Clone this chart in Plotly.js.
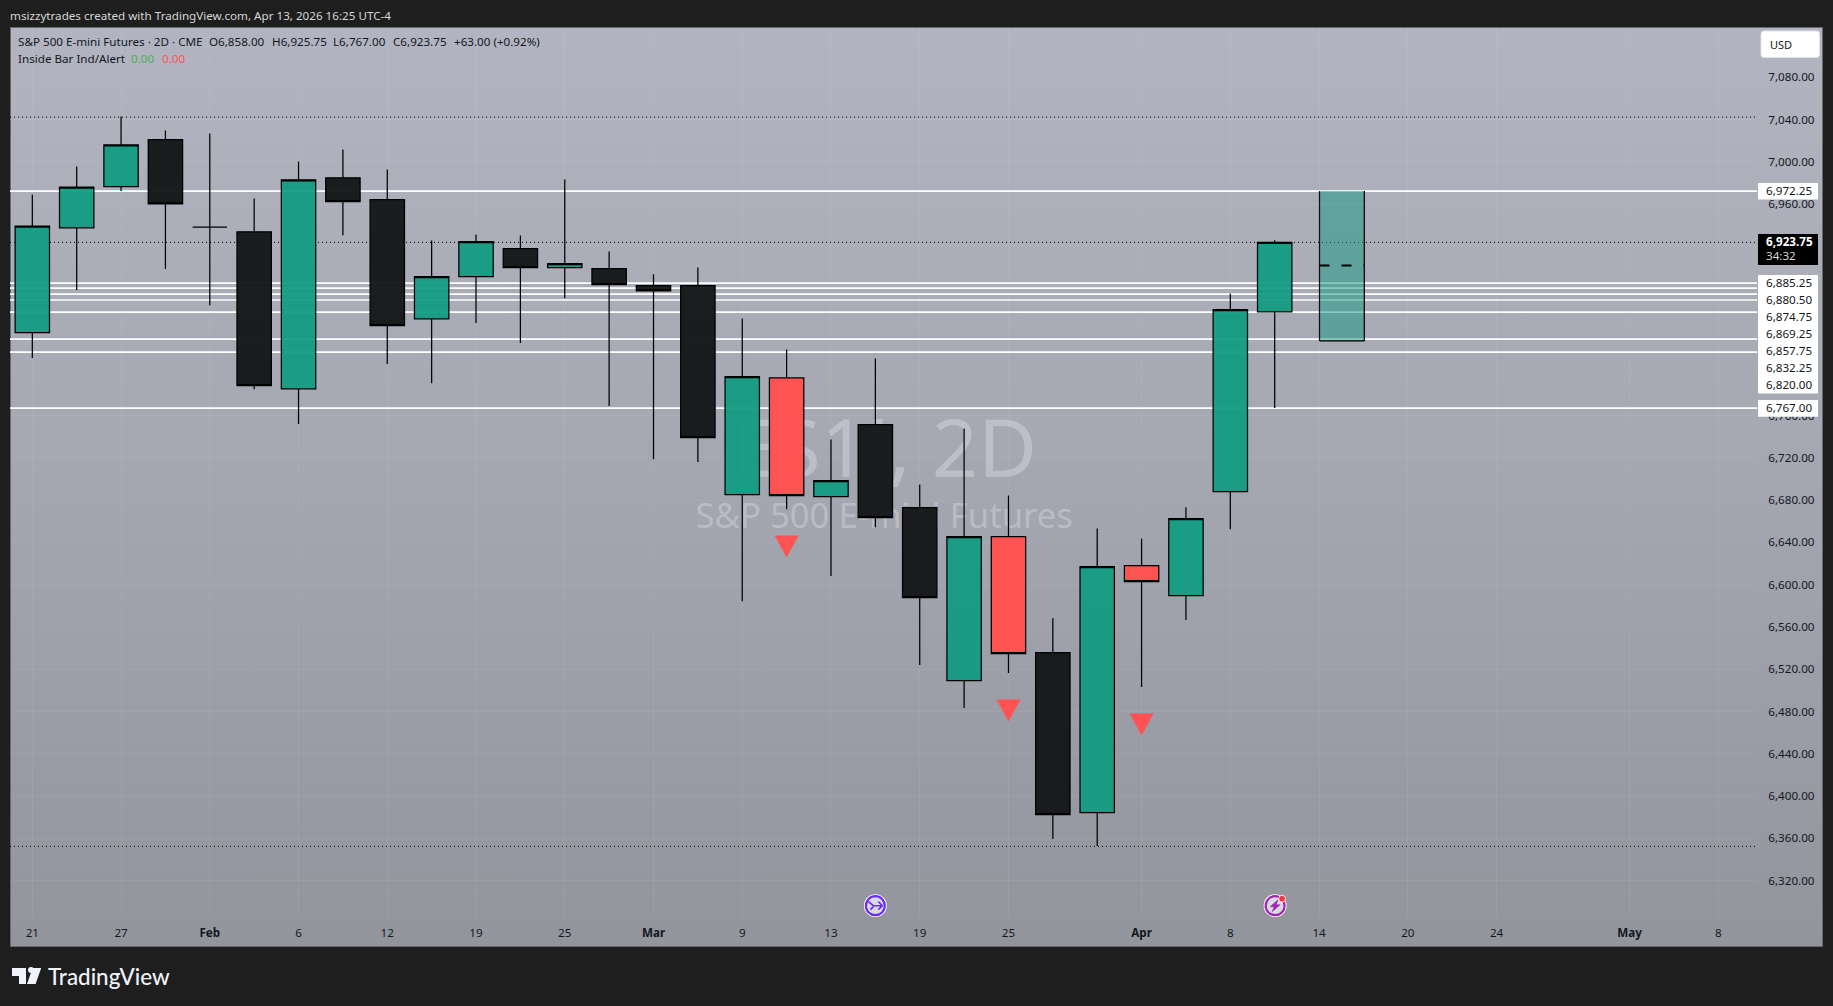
<!DOCTYPE html>
<html><head><meta charset="utf-8">
<script src="https://cdn.plot.ly/plotly-3.0.1.min.js"></script>
<style>
html,body{margin:0;padding:0;background:#1e1e1e;width:1833px;height:1006px;overflow:hidden}
#panel{position:absolute;left:10px;top:27px;width:1811px;height:918px;border:1px solid #68696c;
 background:linear-gradient(to bottom,#b2b5c1 0%,#a7a9b4 40%,#93959d 100%)}
#plot{position:absolute;left:0;top:0;width:1833px;height:1006px}
</style></head><body>
<div id="panel"></div><div id="plot"></div>
<script>
// ---- chart values ----
const barIndex=[0,1,2,3,4,5,6,7,8,9,10,11,12,13,14,15,16,17,18,19,20,21,22,23,24,25,26,27,28];
const barKind=['g','g','g','k','k','k','g','k','k','g','g','k','g','k','k','k','g','r','g','k','k','g','r','k','g','r','g','g','g'];
const barHigh=[6969.1,6995.6,7042.9,7029.7,7026.8,6965.3,7000.3,7011.7,6992.8,6925.6,6931.3,6930.3,6983.3,6915.2,6893.5,6900.1,6851.8,6822.5,6737.4,6814.0,6694.8,6747.8,6684.4,6568.1,6653.2,6643.7,6673.1,6875.5,6925.75];
const barTop=[6939.2,6976.0,7016.1,7020.9,6938.2,6933.8,6983.0,6984.9,6964.1,6891.3,6924.4,6917.8,6903.6,6898.9,6882.8,6882.8,6796.7,6795.7,6698.3,6751.3,6672.8,6645.4,6645.4,6535.6,6617.0,6617.9,6662.4,6860.1,6923.75];
const barBottom=[6838.3,6937.6,6976.4,6960.3,6938.2,6788.2,6785.3,6962.2,6845.0,6851.5,6891.3,6899.8,6899.8,6883.7,6878.0,6739.0,6685.1,6684.1,6683.2,6663.3,6587.7,6509.1,6534.7,6382.4,6384.3,6602.8,6589.5,6687.9,6858.0];
const barLow=[6814.3,6878.6,6972.25,6898.5,6864.4,6784.9,6751.9,6930.6,6808.6,6790.6,6847.4,6828.5,6871.0,6768.9,6718.7,6715.9,6584.4,6671.2,6608.1,6654.4,6523.9,6483.2,6516.3,6359.3,6352.7,6503.1,6566.5,6652.5,6767.0];
const priceTicks=[7080,7040,7000,6960,6760,6720,6680,6640,6600,6560,6520,6480,6440,6400,6360,6320];
const timeTickIndex=[0,2,4,6,8,10,12,14,16,18,20,22,25,27,29,31,33,36,38];
const timeTickText=['21','27','<b>Feb</b>','6','12','19','25','<b>Mar</b>','9','13','19','25','<b>Apr</b>','8','14','20','24','<b>May</b>','8'];
const whiteLevels=[6972.25,6885.25,6880.50,6874.75,6869.25,6857.75,6832.25,6820.00,6767.00];
const dottedLevels=[7042.25,6923.75,6352.4];
const stackedLabels=['6,885.25','6,880.50','6,874.75','6,869.25','6,857.75','6,832.25','6,820.00'];
const alertIndex=[17,22,25];
const alertPrice=[6646.6,6491.4,6478.2];
const projection={x0:29.01,x1:30.02,top:6972.25,mid:6902,bottom:6830.5};

// ---- frame ----
const L=10,R=1757,T=27,B=917;
const xRange=[-0.503,38.87], yRange=[6285.6,7127.5];
const px=v=>(v-L)/(R-L), py=v=>1-(v-T)/(B-T);
const font='"Noto Sans",sans-serif', ink='#131722';

const colors={g:'rgba(18,155,130,0.94)',k:'rgba(22,23,25,0.97)',r:'rgba(255,82,82,0.99)'};
const traces=[];
// watermark sits on the base subplot, underneath the candles
traces.push({type:'scatter',mode:'text',x:[19.2],y:[6721],text:['ES1!, 2D'],xaxis:'x',yaxis:'y',
  textfont:{family:font,size:81,color:'rgba(255,255,255,0.27)'},hoverinfo:'skip',showlegend:false});
traces.push({type:'scatter',mode:'text',x:[19.2],y:[6662],text:['S&P 500 E-mini Futures'],xaxis:'x',yaxis:'y',
  textfont:{family:font,size:34.7,color:'rgba(255,255,255,0.27)'},hoverinfo:'skip',showlegend:false});
for(const k of ['g','k','r']){
  const ids=barIndex.filter(i=>barKind[i]===k);
  const up=k==='g';
  const side={line:{color:'#000',width:1.25},fillcolor:colors[k]};
  traces.push({type:'candlestick',xaxis:'x2',yaxis:'y2',x:ids,
    open:ids.map(i=>up?barBottom[i]:barTop[i]),close:ids.map(i=>up?barTop[i]:barBottom[i]),
    high:ids.map(i=>barHigh[i]),low:ids.map(i=>barLow[i]),
    increasing:side,decreasing:side,whiskerwidth:0,showlegend:false,hoverinfo:'skip'});
}

// ---- shapes ----
const shapes=[];
const P=projection;
shapes.push({type:'rect',layer:'below',xref:'x',yref:'y',x0:P.x0,x1:P.x1,y0:P.bottom,y1:P.top,fillcolor:'rgba(20,150,128,0.5)',line:{width:0}});
for(const v of whiteLevels) shapes.push({type:'line',layer:'below',xref:'paper',yref:'y',x0:0,x1:1,y0:v,y1:v,line:{color:'#fff',width:1.7}});
for(const v of dottedLevels) shapes.push({type:'line',layer:'below',xref:'paper',yref:'y',x0:0,x1:1,y0:v,y1:v,line:{color:'#000',width:1,dash:'1px 3px'}});
// projection outline
const outline={color:'#000',width:1.25};
shapes.push({type:'line',layer:'below',xref:'x',yref:'y',x0:P.x0,x1:P.x0,y0:P.bottom,y1:P.top,line:outline});
shapes.push({type:'line',layer:'below',xref:'x',yref:'y',x0:P.x1,x1:P.x1,y0:P.bottom,y1:P.top,line:outline});
shapes.push({type:'line',layer:'below',xref:'x',yref:'y',x0:P.x0,x1:P.x1,y0:P.bottom,y1:P.bottom,line:outline});
shapes.push({type:'line',layer:'below',xref:'x',yref:'y',x0:P.x0,x1:P.x1,y0:P.mid,y1:P.mid,line:{color:'#000',width:2,dash:'10px 12px'}});
// alert triangles
alertIndex.forEach((x,i)=>shapes.push({type:'path',layer:'above',xref:'x',yref:'y',xsizemode:'pixel',ysizemode:'pixel',
  xanchor:x,yanchor:alertPrice[i],path:'M -12 0 L 12 0 L 0 -22 Z',fillcolor:'#ff5252',line:{width:0}}));
// price-scale boxes
const box=(x0,x1,y0,y1,c)=>shapes.push({type:'rect',layer:'above',xref:'paper',yref:'paper',x0:px(x0),x1:px(x1),y0:py(y1),y1:py(y0),fillcolor:c,line:{width:0}});
box(1758,1818,183,199.5,'#fff');
box(1758,1818,234,265,'#000');
box(1758,1818,275,393.5,'#fff');
box(1758,1818,400,416.7,'#fff');
// USD button
(function(){const x0=1761,x1=1819.5,y0=31,y1=57.5,r=3;
 const X=px,Y=py;
 shapes.push({type:'path',layer:'above',xref:'paper',yref:'paper',fillcolor:'#fff',line:{color:'#e3e4e8',width:1},
  path:`M ${X(x0+r)} ${Y(y0)} L ${X(x1-r)} ${Y(y0)} Q ${X(x1)} ${Y(y0)} ${X(x1)} ${Y(y0+r)} L ${X(x1)} ${Y(y1-r)} Q ${X(x1)} ${Y(y1)} ${X(x1-r)} ${Y(y1)} L ${X(x0+r)} ${Y(y1)} Q ${X(x0)} ${Y(y1)} ${X(x0)} ${Y(y1-r)} L ${X(x0)} ${Y(y0+r)} Q ${X(x0)} ${Y(y0)} ${X(x0+r)} ${Y(y0)} Z`});
})();
// event icons
const iconY=6296.3;
function circle(xa,cx,cy,r,fill,stroke,w){shapes.push({type:'circle',layer:'above',xref:'x',yref:'y',xsizemode:'pixel',ysizemode:'pixel',xanchor:xa,yanchor:iconY,
  x0:cx-r,x1:cx+r,y0:cy-r,y1:cy+r,fillcolor:fill,line:{color:stroke,width:w}});}
function glyph(xa,path,fill,stroke,w){shapes.push({type:'path',layer:'above',xref:'x',yref:'y',xsizemode:'pixel',ysizemode:'pixel',xanchor:xa,yanchor:iconY,
  path,fillcolor:fill,line:{color:stroke,width:w}});}
circle(19.0,0,0,11.5,'#fff','#fff',0);
circle(19.0,0,0,9.5,'#d9dae4','#6a2cf5',2.2);
glyph(19.0,'M -7 4 L -2 0 L 7 0 M -5 -4 L -2 -1 M 3 4 L 7 0 L 3 -4','rgba(0,0,0,0)','#6a2cf5',1.6);
circle(28.01,0,0,11.5,'#fff','#fff',0);
circle(28.01,0,0,9.5,'#d9dae4','#9c27b0',2.2);
glyph(28.01,'M 3 6 L -5 -1 L -1 -1 L -3 -6 L 5 1 L 1 1 Z','#9c27b0','#9c27b0',0.5);
circle(28.01,7,7,3.4,'#f23645','#fff',0.8);
// TradingView logo
const lx=12,ly=962;
const lp=(x,y)=>`${px(lx+x)} ${py(ly+y)}`;
shapes.push({type:'path',layer:'above',xref:'paper',yref:'paper',fillcolor:'#f0f3fa',line:{width:0},
 path:`M ${lp(14,6)} L ${lp(0,6)} L ${lp(0,14)} L ${lp(7,14)} L ${lp(7,22)} L ${lp(14,22)} Z M ${lp(29.2,6)} L ${lp(20.6,6)} L ${lp(15,22)} L ${lp(23.6,22)} Z`});
shapes.push({type:'circle',layer:'above',xref:'paper',yref:'paper',fillcolor:'#f0f3fa',line:{width:0},x0:px(lx+16),x1:px(lx+22),y0:py(ly+11),y1:py(ly+5)});

// ---- texts ----
const ann=(text,x,y,size,color,extra)=>Object.assign({text,xref:'paper',yref:'paper',x:px(x),y:py(y),xanchor:'left',yanchor:'middle',showarrow:false,
  font:{family:font,size,color},borderpad:0,borderwidth:0},extra||{});
const S=11.65;
const annotations=[
 ann('msizzytrades created with TradingView.com, Apr 13, 2026 16:25 UTC-4',10,15,S,'#d6d6d6'),
 ann('S&amp;P 500 E-mini Futures · 2D · CME',18,41.5,S,ink),
 ann('O6,858.00',209,41.5,S,ink),ann('H6,925.75',272,41.5,S,ink),ann('L6,767.00',333,41.5,S,ink),ann('C6,923.75',393,41.5,S,ink),
 ann('+63.00 (+0.92%)',454,41.5,S,ink),
 ann('Inside Bar Ind/Alert',18,58.5,S,ink),ann('0.00',131,58.5,S,'#4caf50'),ann('0.00',162,58.5,S,'#ff5252'),
 ann('USD',1770,44.5,11,ink),
 ann('6,972.25',1766,191,S,ink),ann('<b>6,923.75</b>',1766,241.7,S,'#fff'),ann('34:32',1766,255.7,S,'#d5d5d5'),ann('6,767.00',1766,407.7,S,ink),
 ann('TradingView',48,976,22,'#f0f3fa',{font:{family:'Lato,sans-serif',size:22.4,color:'#f0f3fa',weight:500}}),
];
stackedLabels.forEach((t,i)=>annotations.push(ann(t,1766,282.7+17*i,S,ink)));

const layout={
 width:1833,height:1006,paper_bgcolor:'rgba(0,0,0,0)',plot_bgcolor:'rgba(0,0,0,0)',
 margin:{l:L,r:1833-R,t:T,b:1006-B,pad:0},showlegend:false,hovermode:false,dragmode:false,
 xaxis:{range:xRange,type:'linear',tickmode:'array',tickvals:timeTickIndex,ticktext:timeTickText,showgrid:true,gridcolor:'rgba(255,255,255,0.06)',gridwidth:1,
   zeroline:false,showline:false,ticks:'outside',ticklen:5,tickcolor:'rgba(0,0,0,0)',tickfont:{family:font,size:S,color:ink},tickangle:0,fixedrange:true,rangeslider:{visible:false}},
 yaxis:{range:yRange,side:'right',tickmode:'array',tickvals:priceTicks,ticktext:priceTicks.map(v=>v.toLocaleString('en-US',{minimumFractionDigits:2})),showgrid:true,gridcolor:'rgba(255,255,255,0.05)',gridwidth:1,
   zeroline:false,showline:false,ticks:'outside',ticklen:8,tickcolor:'rgba(0,0,0,0)',tickfont:{family:font,size:S,color:ink},fixedrange:true},
 xaxis2:{range:xRange,type:'linear',overlaying:'x',visible:false,fixedrange:true,rangeslider:{visible:false}},
 yaxis2:{range:yRange,overlaying:'y',side:'right',visible:false,fixedrange:true},
 boxgap:0.225,boxgroupgap:0,boxmode:'overlay',shapes,annotations
};
Plotly.newPlot('plot',traces,layout,{staticPlot:true,displayModeBar:false});
</script></body></html>
